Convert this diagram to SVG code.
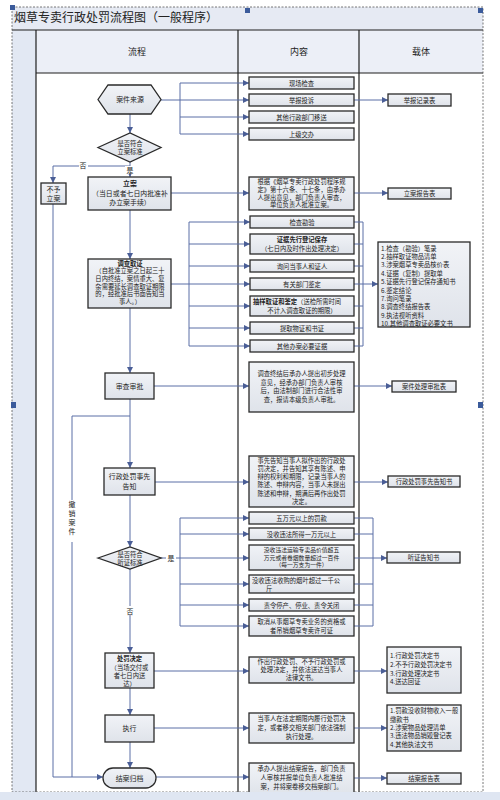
<svg xmlns="http://www.w3.org/2000/svg" width="500" height="800" viewBox="0 0 500 800">
<style>
.t{font-family:"Noto Sans CJK SC","Noto Sans",sans-serif;fill:#222}
.h{font-size:9px}
.m{font-size:6.9px}
.s{font-size:6.3px}
.xs{font-size:5.8px}
.b{font-weight:bold}
.c{text-anchor:middle}
.box{fill:url(#g);stroke:#2a2a2a;stroke-width:1.3}
.conn{fill:none;stroke:#5a6ea6;stroke-width:1}
.grid{stroke:#1f1f1f;stroke-width:1.2}
.hd{fill:#3b5b9b}
</style>
<defs>
<linearGradient id="g" x1="0" y1="0" x2="0" y2="1">
<stop offset="0" stop-color="#f1f3f7"/>
<stop offset="1" stop-color="#dfe3ea"/>
</linearGradient>
<marker id="a" markerWidth="6" markerHeight="6" refX="6" refY="3" orient="auto" markerUnits="userSpaceOnUse">
<path d="M0,0 L6,3 L0,6 z" fill="#4a5e96"/>
</marker>
</defs>
<rect x="0" y="0" width="500" height="800" fill="#ffffff"/>
<!-- table frame -->
<rect x="12" y="7" width="471" height="23" fill="#e6eaf3"/>
<rect x="12" y="30" width="471" height="43" fill="#eceff7"/>
<rect x="12" y="30" width="24" height="762" fill="#e2e8f3"/>
<line class="grid" x1="12" y1="30" x2="483" y2="30"/>
<line class="grid" x1="36" y1="73" x2="483" y2="73"/>
<line class="grid" x1="36" y1="30" x2="36" y2="792"/>
<line class="grid" x1="238" y1="30" x2="238" y2="792"/>
<line class="grid" x1="359" y1="30" x2="359" y2="792"/>
<rect x="12" y="7" width="471" height="785" fill="none" stroke="#555" stroke-width="0.8" stroke-dasharray="2 1.5"/>
<text class="t" x="14" y="22" font-size="12">烟草专卖行政处罚流程图（一般程序）</text>
<text class="t h c" x="137" y="55">流程</text>
<text class="t h c" x="299" y="55">内容</text>
<text class="t h c" x="421" y="55">载体</text>
<rect class="hd" x="10" y="5" width="5" height="5"/>
<rect class="hd" x="245" y="8" width="5" height="5"/>
<rect class="hd" x="478" y="8" width="5" height="5"/>
<rect class="hd" x="11" y="402" width="5" height="6"/>
<rect class="hd" x="478" y="402" width="5" height="6"/>

<g id="connectors">
<!-- flow -->
<line class="conn" x1="130" y1="114" x2="130" y2="133" marker-end="url(#a)"/>
<line class="conn" x1="130" y1="162" x2="130" y2="177" marker-end="url(#a)"/>
<polyline class="conn" points="130,166 53,166 53,183" marker-end="url(#a)"/>
<line class="conn" x1="130" y1="210" x2="130" y2="259" marker-end="url(#a)"/>
<line class="conn" x1="130" y1="308" x2="130" y2="373" marker-end="url(#a)"/>
<line class="conn" x1="130" y1="399" x2="130" y2="468" marker-end="url(#a)"/>
<line class="conn" x1="130" y1="495" x2="130" y2="547" marker-end="url(#a)"/>
<line class="conn" x1="130" y1="569" x2="130" y2="653" marker-end="url(#a)"/>
<line class="conn" x1="130" y1="688" x2="130" y2="715" marker-end="url(#a)"/>
<line class="conn" x1="130" y1="742" x2="130" y2="768" marker-end="url(#a)"/>
<polyline class="conn" points="53,204 53,777 103,777" marker-end="url(#a)"/>
<polyline class="conn" points="130,416 72,416 72,777"/>
<!-- sources -->
<line class="conn" x1="161" y1="100" x2="249" y2="100" marker-end="url(#a)"/>
<line class="conn" x1="180" y1="83" x2="180" y2="134"/>
<line class="conn" x1="180" y1="83" x2="249" y2="83" marker-end="url(#a)"/>
<line class="conn" x1="180" y1="117" x2="249" y2="117" marker-end="url(#a)"/>
<line class="conn" x1="180" y1="134" x2="249" y2="134" marker-end="url(#a)"/>
<line class="conn" x1="354" y1="100" x2="388" y2="100" marker-end="url(#a)"/>
<!-- 立案 -->
<line class="conn" x1="171" y1="193" x2="249" y2="193" marker-end="url(#a)"/>
<line class="conn" x1="354" y1="193" x2="388" y2="193" marker-end="url(#a)"/>
<!-- 调查取证 -->
<line class="conn" x1="171" y1="284" x2="189" y2="284"/>
<line class="conn" x1="189" y1="222" x2="189" y2="346"/>
<line class="conn" x1="189" y1="222" x2="250" y2="222" marker-end="url(#a)"/>
<line class="conn" x1="189" y1="244" x2="250" y2="244" marker-end="url(#a)"/>
<line class="conn" x1="189" y1="266" x2="250" y2="266" marker-end="url(#a)"/>
<line class="conn" x1="189" y1="284" x2="250" y2="284" marker-end="url(#a)"/>
<line class="conn" x1="189" y1="306" x2="250" y2="306" marker-end="url(#a)"/>
<line class="conn" x1="189" y1="328" x2="250" y2="328" marker-end="url(#a)"/>
<line class="conn" x1="189" y1="346" x2="250" y2="346" marker-end="url(#a)"/>
<line class="conn" x1="363" y1="222" x2="363" y2="346"/>
<line class="conn" x1="354" y1="222" x2="363" y2="222"/>
<line class="conn" x1="354" y1="244" x2="363" y2="244"/>
<line class="conn" x1="354" y1="266" x2="363" y2="266"/>
<line class="conn" x1="354" y1="284" x2="363" y2="284"/>
<line class="conn" x1="354" y1="306" x2="363" y2="306"/>
<line class="conn" x1="354" y1="328" x2="363" y2="328"/>
<line class="conn" x1="354" y1="346" x2="363" y2="346"/>
<line class="conn" x1="363" y1="284" x2="378" y2="284" marker-end="url(#a)"/>
<!-- 审查审批 -->
<line class="conn" x1="154" y1="386" x2="249" y2="386" marker-end="url(#a)"/>
<line class="conn" x1="354" y1="386" x2="392" y2="386" marker-end="url(#a)"/>
<!-- 事先告知 -->
<line class="conn" x1="155" y1="482" x2="249" y2="482" marker-end="url(#a)"/>
<line class="conn" x1="354" y1="482" x2="388" y2="482" marker-end="url(#a)"/>
<!-- 听证 -->
<line class="conn" x1="160" y1="558" x2="180" y2="558"/>
<line class="conn" x1="180" y1="518" x2="180" y2="626"/>
<line class="conn" x1="180" y1="518" x2="249" y2="518" marker-end="url(#a)"/>
<line class="conn" x1="180" y1="534" x2="249" y2="534" marker-end="url(#a)"/>
<line class="conn" x1="180" y1="558" x2="249" y2="558" marker-end="url(#a)"/>
<line class="conn" x1="180" y1="584" x2="249" y2="584" marker-end="url(#a)"/>
<line class="conn" x1="180" y1="605" x2="249" y2="605" marker-end="url(#a)"/>
<line class="conn" x1="180" y1="626" x2="249" y2="626" marker-end="url(#a)"/>
<line class="conn" x1="373" y1="518" x2="373" y2="626"/>
<line class="conn" x1="354" y1="518" x2="373" y2="518"/>
<line class="conn" x1="354" y1="534" x2="373" y2="534"/>
<line class="conn" x1="354" y1="558" x2="373" y2="558"/>
<line class="conn" x1="354" y1="584" x2="373" y2="584"/>
<line class="conn" x1="354" y1="605" x2="373" y2="605"/>
<line class="conn" x1="354" y1="626" x2="373" y2="626"/>
<line class="conn" x1="373" y1="558" x2="387" y2="558" marker-end="url(#a)"/>
<!-- 处罚决定 / 执行 / 结案 -->
<line class="conn" x1="154" y1="671" x2="249" y2="671" marker-end="url(#a)"/>
<line class="conn" x1="354" y1="671" x2="387" y2="671" marker-end="url(#a)"/>
<line class="conn" x1="154" y1="728" x2="249" y2="728" marker-end="url(#a)"/>
<line class="conn" x1="354" y1="728" x2="387" y2="728" marker-end="url(#a)"/>
<line class="conn" x1="156" y1="777" x2="249" y2="777" marker-end="url(#a)"/>
<line class="conn" x1="354" y1="778" x2="387" y2="778" marker-end="url(#a)"/>
<!-- labels -->
<rect x="79" y="161" width="9" height="9" fill="#fff"/>
<text class="t m c" x="83" y="168">否</text>
<rect x="125" y="166" width="10" height="8" fill="#fff"/>
<text class="t m c" x="130" y="173">是</text>
<rect x="166" y="553" width="10" height="9" fill="#fff"/>
<text class="t m c" x="171" y="561">是</text>
<rect x="125" y="606" width="10" height="9" fill="#fff"/>
<text class="t m c" x="130" y="614">否</text>
<rect x="67" y="500" width="10" height="42" fill="#fff"/>
<text class="t m c" x="72" y="507">撤</text>
<text class="t m c" x="72" y="516">销</text>
<text class="t m c" x="72" y="525">案</text>
<text class="t m c" x="72" y="534">件</text>
</g>

<!-- flow nodes -->
<g id="n-source">
<polygon class="box" points="98,99.5 108,85 151,85 161,99.5 151,114 108,114"/>
<text class="t m c" x="130" y="102">案件来源</text>
</g>
<g id="n-check1">
<polygon class="box" points="98,147.5 130,133 161,147.5 130,162"/>
<text class="t s c" x="130" y="146">是否符合</text>
<text class="t s c" x="130" y="154">立案标准</text>
</g>
<g id="n-reject">
<rect class="box" x="41" y="183" width="25" height="21"/>
<text class="t m c" x="53.5" y="192">不予</text>
<text class="t m c" x="53.5" y="201">立案</text>
</g>
<g id="n-register">
<rect class="box" x="88" y="177" width="83" height="33"/>
<text class="t m c b" x="130" y="186">立案</text>
<text class="t m c" x="130" y="196">（当日或者七日内批准补</text>
<text class="t m c" x="130" y="205">办立案手续）</text>
</g>
<g id="n-investigate">
<rect class="box" x="88" y="259" width="83" height="49"/>
<text class="t s c b" x="130" y="265.5">调查取证</text>
<text class="t s c" x="130" y="273.2">（自批准立案之日起三十</text>
<text class="t s c" x="130" y="280.9">日内终结，案情重大、复</text>
<text class="t s c" x="130" y="288.6">杂需要延长调查取证期限</text>
<text class="t s c" x="130" y="296.3">的，经批准后书面告知当</text>
<text class="t s c" x="130" y="304">事人。）</text>
</g>
<g id="n-review">
<rect class="box" x="105" y="373" width="49" height="26"/>
<text class="t m c" x="129.5" y="388.5">审查审批</text>
</g>
<g id="n-notify">
<rect class="box" x="104" y="468" width="51" height="27"/>
<text class="t m c" x="129.5" y="479">行政处罚事先</text>
<text class="t m c" x="129.5" y="489">告知</text>
</g>
<g id="n-check2">
<polygon class="box" points="98,558 130,547 161,558 130,569"/>
<text class="t s c" x="130" y="557">是否符合</text>
<text class="t s c" x="130" y="565">听证标准</text>
</g>
<g id="n-decision">
<rect class="box" x="105" y="653" width="49" height="35"/>
<text class="t s c b" x="129.5" y="661">处罚决定</text>
<text class="t s c" x="129.5" y="669.5">（当场交付或</text>
<text class="t s c" x="129.5" y="677.5">者七日内送</text>
<text class="t s c" x="129.5" y="685.5">达）</text>
</g>
<g id="n-execute">
<rect class="box" x="105" y="715" width="49" height="27"/>
<text class="t m c" x="129.5" y="731">执行</text>
</g>
<g id="n-close">
<rect class="box" x="103" y="768" width="53" height="20" rx="10"/>
<text class="t m c" x="129.5" y="780.5">结案归档</text>
</g>

<!-- content nodes -->
<g id="c-src1"><rect class="box" x="249" y="77" width="105" height="12"/><text class="t s c" x="301.5" y="85.5">现场检查</text></g>
<g id="c-src2"><rect class="box" x="249" y="94" width="105" height="12"/><text class="t s c" x="301.5" y="102.5">举报投诉</text></g>
<g id="c-src3"><rect class="box" x="249" y="111" width="105" height="12"/><text class="t s c" x="301.5" y="119.5">其他行政部门移送</text></g>
<g id="c-src4"><rect class="box" x="249" y="128" width="105" height="12"/><text class="t s c" x="301.5" y="136.5">上级交办</text></g>
<g id="c-register">
<rect class="box" x="249" y="177" width="105" height="33"/>
<text class="t s c" x="301.5" y="184.3">根据《烟草专卖行政处罚程序规</text>
<text class="t s c" x="301.5" y="192">定》第十六条、十七条，由承办</text>
<text class="t s c" x="301.5" y="199.7">人提出意见，部门负责人审查，</text>
<text class="t s c" x="301.5" y="207.4">单位负责人批准立案。</text>
</g>
<g id="c-inv1"><rect class="box" x="250" y="216" width="104" height="12"/><text class="t s c" x="302" y="224.5">检查勘验</text></g>
<g id="c-inv2"><rect class="box" x="250" y="234" width="104" height="20"/>
<text class="t s c b" x="302" y="242">证据先行登记保存</text>
<text class="t s c" x="302" y="251">（七日内及时作出处理决定）</text></g>
<g id="c-inv3"><rect class="box" x="250" y="260" width="104" height="12"/><text class="t s c" x="302" y="268.5">询问当事人和证人</text></g>
<g id="c-inv4"><rect class="box" x="250" y="278" width="104" height="12"/><text class="t s c" x="302" y="286.5">有关部门鉴定</text></g>
<g id="c-inv5"><rect class="box" x="250" y="296" width="104" height="20"/>
<text class="t s" x="253" y="304"><tspan class="b">抽样取证和鉴定</tspan>（送检所需时间</text>
<text class="t s c" x="302" y="313">不计入调查取证的期限）</text></g>
<g id="c-inv6"><rect class="box" x="250" y="322" width="104" height="12"/><text class="t s c" x="302" y="330.5">提取物证和书证</text></g>
<g id="c-inv7"><rect class="box" x="250" y="340" width="104" height="12"/><text class="t s c" x="302" y="348.5">其他办案必要证据</text></g>
<g id="c-review">
<rect class="box" x="249" y="362" width="105" height="50"/>
<text class="t s c" x="301.5" y="376.3">调查终结后承办人提出初步处理</text>
<text class="t s c" x="301.5" y="384.8">意见，经承办部门负责人审核</text>
<text class="t s c" x="301.5" y="393.3">后，由法制部门进行合法性审</text>
<text class="t s c" x="301.5" y="401.8">查，报请本级负责人审批。</text>
</g>
<g id="c-notify">
<rect class="box" x="249" y="456" width="105" height="51"/>
<text class="t s c" x="301.5" y="462.5">事先告知当事人拟作出的行政处</text>
<text class="t s c" x="301.5" y="470.8">罚决定，并告知其享有陈述、申</text>
<text class="t s c" x="301.5" y="479.1">辩的权利和期限，记录当事人的</text>
<text class="t s c" x="301.5" y="487.4">陈述、申辩内容，当事人未提出</text>
<text class="t s c" x="301.5" y="495.7">陈述和申辩，期满后再作出处罚</text>
<text class="t s c" x="301.5" y="504">决定。</text>
</g>
<g id="c-h1"><rect class="box" x="249" y="512" width="105" height="12"/><text class="t s c" x="301.5" y="520.5">五万元以上的罚款</text></g>
<g id="c-h2"><rect class="box" x="249" y="528" width="105" height="12"/><text class="t s c" x="301.5" y="536.5">没收违法所得一万元以上</text></g>
<g id="c-h3"><rect class="box" x="249" y="545" width="105" height="25"/>
<text class="t xs c" x="301.5" y="552">没收违法运输专卖品价值超五</text>
<text class="t xs c" x="301.5" y="559.5">万元或者卷烟数量超过一百件</text>
<text class="t xs c" x="301.5" y="567">（每一万支为一件）</text></g>
<g id="c-h4"><rect class="box" x="249" y="575" width="105" height="18"/>
<text class="t s" x="252" y="582.5">没收违法收购的烟叶超过一千公</text>
<text class="t s" x="266" y="590.5">斤</text></g>
<g id="c-h5"><rect class="box" x="249" y="599" width="105" height="12"/><text class="t s c" x="301.5" y="607.5">责令停产、停业、责令关闭</text></g>
<g id="c-h6"><rect class="box" x="249" y="616" width="105" height="20"/>
<text class="t s c" x="301.5" y="624">取消从事烟草专卖业务的资格或</text>
<text class="t s c" x="301.5" y="632.5">者吊销烟草专卖许可证</text></g>
<g id="c-decision">
<rect class="box" x="249" y="657" width="105" height="26"/>
<text class="t s c" x="301.5" y="663.5">作出行政处罚、不予行政处罚或</text>
<text class="t s c" x="301.5" y="671.5">处理决定，并依法送达当事人</text>
<text class="t s c" x="301.5" y="679.5">法律文书。</text>
</g>
<g id="c-execute">
<rect class="box" x="249" y="713" width="105" height="30"/>
<text class="t s c" x="301.5" y="721">当事人在法定期限内履行处罚决</text>
<text class="t s c" x="301.5" y="730">定，或者移交相关部门依法强制</text>
<text class="t s c" x="301.5" y="739">执行处理。</text>
</g>
<g id="c-close">
<rect class="box" x="249" y="763" width="105" height="32"/>
<text class="t s c" x="301.5" y="771">承办人提出结案报告，部门负责</text>
<text class="t s c" x="301.5" y="780">人审核并报单位负责人批准结</text>
<text class="t s c" x="301.5" y="789">案，并将案卷移交档案部门。</text>
</g>

<!-- carrier nodes -->
<g id="d-report"><rect class="box" x="388" y="94" width="63" height="12"/><text class="t s c" x="419.5" y="102.5">举报记录表</text></g>
<g id="d-register"><rect class="box" x="388" y="188" width="63" height="11"/><text class="t s c" x="419.5" y="196">立案报告表</text></g>
<g id="d-inv">
<rect class="box" x="378" y="242" width="92" height="85"/>
<text class="t s" x="381" y="250.5">1.检查（勘验）笔录</text>
<text class="t s" x="381" y="258.9">2.抽样取证物品清单</text>
<text class="t s" x="381" y="267.3">3.涉案烟草专卖品核价表</text>
<text class="t s" x="381" y="275.7">4.证据（复制）提取单</text>
<text class="t s" x="381" y="284.1">5.证据先行登记保存通知书</text>
<text class="t s" x="381" y="292.5">6.鉴定结论</text>
<text class="t s" x="381" y="300.9">7.询问笔录</text>
<text class="t s" x="381" y="309.3">8.调查终结报告表</text>
<text class="t s" x="381" y="317.7">9.执法视听资料</text>
<text class="t s" x="381" y="326.1">10.其他调查取证必要文书</text>
</g>
<g id="d-review"><rect class="box" x="392" y="381" width="64" height="11"/><text class="t s c" x="424" y="389">案件处理审批表</text></g>
<g id="d-notify"><rect class="box" x="388" y="476" width="72" height="11"/><text class="t s c" x="424" y="484">行政处罚事先告知书</text></g>
<g id="d-hearing"><rect class="box" x="387" y="552" width="73" height="11"/><text class="t s c" x="423.5" y="560">听证告知书</text></g>
<g id="d-decision">
<rect class="box" x="387" y="647" width="74" height="46"/>
<text class="t s" x="390" y="658.3">1.行政处罚决定书</text>
<text class="t s" x="390" y="667">2.不予行政处罚决定书</text>
<text class="t s" x="390" y="675.6">3.行政处理决定书</text>
<text class="t s" x="390" y="684.3">4.送达回证</text>
</g>
<g id="d-execute">
<rect class="box" x="387" y="705" width="74" height="46"/>
<text class="t s" x="390" y="713.3">1.罚款没收财物收入一般</text>
<text class="t s" x="390" y="721.5">缴款书</text>
<text class="t s" x="390" y="730">2.涉案物品处理清单</text>
<text class="t s" x="390" y="738.3">3.违法物品销毁登记表</text>
<text class="t s" x="390" y="746.5">4.其他执法文书</text>
</g>
<g id="d-close"><rect class="box" x="387" y="773" width="74" height="11"/><text class="t s c" x="424" y="781">结案报告表</text></g>

<rect x="0" y="792" width="500" height="8" fill="#dfe6f2"/>
</svg>
